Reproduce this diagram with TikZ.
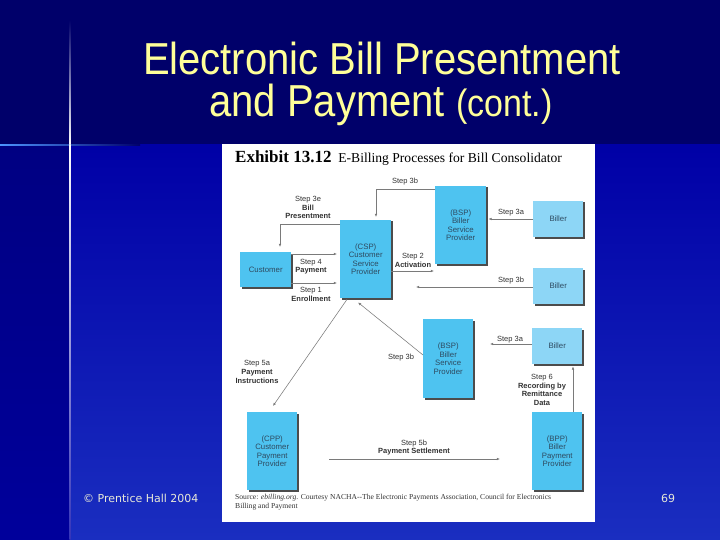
\documentclass[tikz,border=0pt]{standalone}
\usepackage{fontspec}
\setmainfont{Liberation Sans}
\newfontfamily\titlef{Liberation Sans}
\newfontfamily\serf{Liberation Serif}
\newfontfamily\footf{DejaVu Sans}
\usetikzlibrary{arrows.meta,shadows,calc}
\definecolor{navytop}{HTML}{00006A}
\definecolor{navyleft}{HTML}{000082}
\definecolor{bgmid}{HTML}{0000A6}
\definecolor{bgbot}{HTML}{1A2EC0}
\definecolor{titley}{HTML}{FFFF99}
\definecolor{boxblue}{HTML}{4EC3F0}
\definecolor{billerblue}{HTML}{8DD6F6}
\definecolor{boxtext}{HTML}{2E4A60}
\definecolor{lblgray}{HTML}{333333}
\definecolor{conngray}{HTML}{7A7A7A}
\definecolor{footc}{HTML}{E8E8D8}
\tikzset{
  boxbase/.style={anchor=north west, inner sep=0pt, align=center, text=boxtext,
    font=\fontsize{7.8}{8.6}\selectfont,
    drop shadow={shadow xshift=1.3pt, shadow yshift=-1.3pt, opacity=1, fill=black!70}},
  provbox/.style={boxbase, fill=boxblue, minimum width=51pt, minimum height=78pt},
  custbox/.style={boxbase, fill=boxblue, minimum width=51pt, minimum height=35pt},
  billbox/.style={boxbase, fill=billerblue, minimum width=50pt, minimum height=36pt},
  conn/.style={draw=conngray, line width=0.55pt, -{Latex[length=3.2pt,width=2.6pt]}},
  lbl/.style={align=center, text=lblgray, inner sep=0pt, font=\fontsize{7.5}{8.6}\selectfont},
}
\begin{document}
\begin{tikzpicture}[x=1pt,y=-1pt]
\useasboundingbox (0,0) rectangle (720,540);
% background
\fill[navytop] (0,0) rectangle (720,540);
\shade[top color=navyleft, bottom color=bgmid!70!navyleft] (0,145) rectangle (70,540);
\shade[top color=bgmid, bottom color=bgbot] (70,145) rectangle (720,540);
% crosshair
\shade[left color=blue!60!cyan!70!white, middle color=white, right color=navytop] (0,144.2) rectangle (140,145.8);
\shade[top color=navytop, bottom color=white] (69.4,20) rectangle (70.6,145);
\shade[top color=white, bottom color=navyleft!70!blue!80!white] (69.4,145) rectangle (70.6,540);
% title
\node[anchor=base, text=titley, inner sep=0pt] (t1) at (382,75)
  {\titlef\fontsize{40}{40}\selectfont\scalebox{1}[1.12]{Electronic Bill Presentment}};
\node[anchor=base, text=titley, inner sep=0pt] (t2) at (381,117)
  {\titlef\fontsize{40}{40}\selectfont\scalebox{1}[1.12]{and Payment {\fontsize{34}{34}\selectfont(cont.)}}};
% footer
\node[anchor=base west, text=footc, inner sep=0pt] (foot) at (83,502)
  {\footf\fontsize{11}{12}\selectfont © Prentice Hall 2004};
\node[anchor=base, text=footc, inner sep=0pt] (pg) at (668,502)
  {\footf\fontsize{11}{12}\selectfont 69};
% panel
\fill[white] (222,144) rectangle (595,522);
\node[anchor=base west, inner sep=0pt] (exh) at (235,163)
  {\serf\fontsize{17}{17}\selectfont\bfseries Exhibit 13.12\fontsize{13.6}{14}\mdseries\ \ E-Billing Processes for Bill Consolidator};
% boxes
\node[provbox] (csp) at (340,220) {(CSP)\\Customer\\Service\\Provider};
\node[custbox] (cust) at (240,252) {Customer};
\node[provbox] (bsp1) at (435,186) {(BSP)\\Biller\\Service\\Provider};
\node[billbox] (biller1) at (533,201) {Biller};
\node[billbox] (biller2) at (533,268) {Biller};
\node[provbox, minimum width=50pt, minimum height=79pt] (bsp2) at (423,319) {(BSP)\\Biller\\Service\\Provider};
\node[billbox] (biller3) at (532,328) {Biller};
\node[provbox, minimum width=50pt] (cpp) at (247,412) {(CPP)\\Customer\\Payment\\Provider};
\node[provbox, minimum width=50pt] (bpp) at (532,412) {(BPP)\\Biller\\Payment\\Provider};
% free ends
\coordinate (e3bmid) at (416,0);
\coordinate (e3alow) at (490,0);
\coordinate (s5bstart) at ($(cpp.north east)+(32,47)$);
\coordinate (s5bend) at ($(bpp.north west)+(-32,47)$);
% connectors
\draw[conn] ($(bsp1.north west)+(0,3)$) -| ($(csp.north west)+(36,-3)$);
\draw[conn] ($(csp.north west)+(0,4)$) -| ($(cust.north west)+(40,-5)$);
\draw[conn] ($(cust.north east)+(0,2)$) -- ($(csp.north west)+(-3,34)$);
\draw[conn] ($(cust.north east)+(0,31)$) -- ($(csp.north west)+(-3,63)$);
\draw[conn] ($(csp.north east)+(0,51)$) -- ($(bsp1.north west)+(-1,85)$);
\draw[conn] ($(biller1.north west)+(0,18)$) -- ($(bsp1.north east)+(2,33)$);
\draw[conn] ($(biller2.north west)+(0,19)$) -- ($(biller2.north west -| e3bmid)+(0,19)$);
\draw[conn] ($(csp.south west)+(7,1)$) -- ($(cpp.north west)+(26,-6)$);
\draw[conn] ($(bsp2.north west)+(0,36)$) -- ($(csp.south west)+(18,4)$);
\draw[conn] ($(biller3.north west)+(0,16)$) -- ($(biller3.north west -| e3alow)+(0,16)$);
\draw[conn] ($(bpp.north west)+(41,0)$) -- ($(biller3.south west)+(41,2)$);
\draw[conn] (s5bstart) -- (s5bend);
% labels
\node[lbl] (l3btop) at (405,182) {Step 3b};
\node[lbl] (l3e) at (308,207.5) {Step 3e\\\bfseries Bill\\\bfseries Presentment};
\node[lbl] (l4) at (311,266.5) {Step 4\\\bfseries Payment};
\node[lbl] (l1) at (311,294.5) {Step 1\\\bfseries Enrollment};
\node[lbl] (l2) at (413,260.5) {Step 2\\\bfseries Activation};
\node[lbl] (l3atop) at (511,213) {Step 3a};
\node[lbl] (l3bmid) at (511,280.5) {Step 3b};
\node[lbl] (l5a) at (257,372) {Step 5a\\\bfseries Payment\\\bfseries Instructions};
\node[lbl] (l3blow) at (401,358) {Step 3b};
\node[lbl] (l3alow) at (510,340) {Step 3a};
\node[lbl] (l6) at (542,390) {Step 6\\\bfseries Recording by\\\bfseries Remittance\\\bfseries Data};
\node[lbl] (l5b) at (414,447.5) {Step 5b\\\bfseries Payment Settlement};
% source
\node[anchor=north west, align=left, inner sep=0pt, text=lblgray,
      font=\serf\fontsize{7.6}{8.8}\selectfont] (src) at (235,494)
  {Source: \textit{ebilling.org}. Courtesy NACHA--The Electronic Payments Association, Council for Electronics\\ Billing and Payment};
\end{tikzpicture}
\end{document}
